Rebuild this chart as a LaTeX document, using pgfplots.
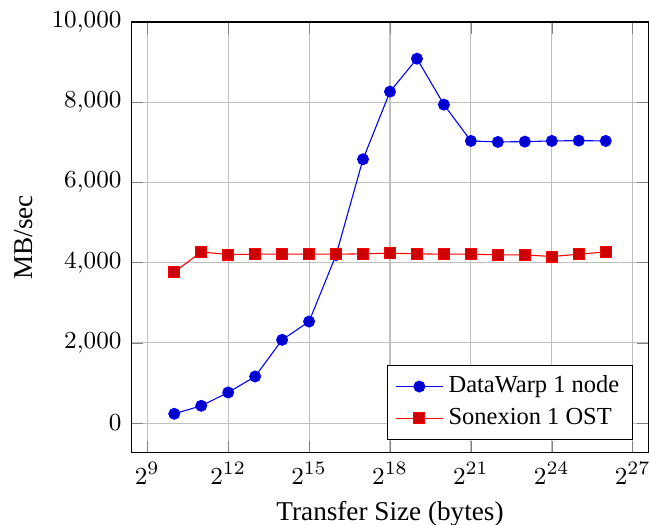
\documentclass[border=0pt]{standalone}
\usepackage{fontspec}
\setmainfont{Liberation Serif}
\usepackage{pgfplots}
\pgfplotsset{compat=1.18}
\begin{document}
\begin{tikzpicture}
\begin{axis}[
  name=ax,
  scale only axis,
  width=190.4pt, height=158.3pt,
  xmode=log, log basis x=2,
  xmin=337.8, xmax=203667001,
  ymin=-735, ymax=10000,
  xtick={512,4096,32768,262144,2097152,16777216,134217728},
  ytick={0,2000,4000,6000,8000,10000},
  scaled y ticks=false,
  tick label style={font=\fontsize{9.4}{11}\selectfont},
  grid=major,
  xlabel={Transfer Size (bytes)},
  xlabel style={yshift=0.9pt},
  ylabel={MB/sec},
  legend style={at={(0.97,0.03)}, anchor=south east, cells={anchor=west}, font=\small},
]
\addplot coordinates {
(1024,232) (2048,431) (4096,763) (8192,1162) (16384,2076) (32768,2532)
(65536,4190) (131072,6579) (262144,8264) (524288,9086) (1048576,7940)
(2097152,7035) (4194304,7010) (8388608,7018) (16777216,7035) (33554432,7043) (67108864,7035)
};
\addlegendentry{DataWarp 1 node}
\addplot coordinates {
(1024,3763) (2048,4268) (4096,4202) (8192,4211) (16384,4211) (32768,4211)
(65536,4211) (131072,4220) (262144,4236) (524288,4220) (1048576,4211)
(2097152,4211) (4194304,4195) (8388608,4195) (16777216,4153) (33554432,4211) (67108864,4268)
};
\addlegendentry{Sonexion 1 OST}
\end{axis}
\pgfresetboundingbox
\path ([shift={(-48.2pt,-26.6pt)}]ax.south west) rectangle ([shift={(0.4pt,8.1pt)}]ax.north east);
\end{tikzpicture}
\end{document}
